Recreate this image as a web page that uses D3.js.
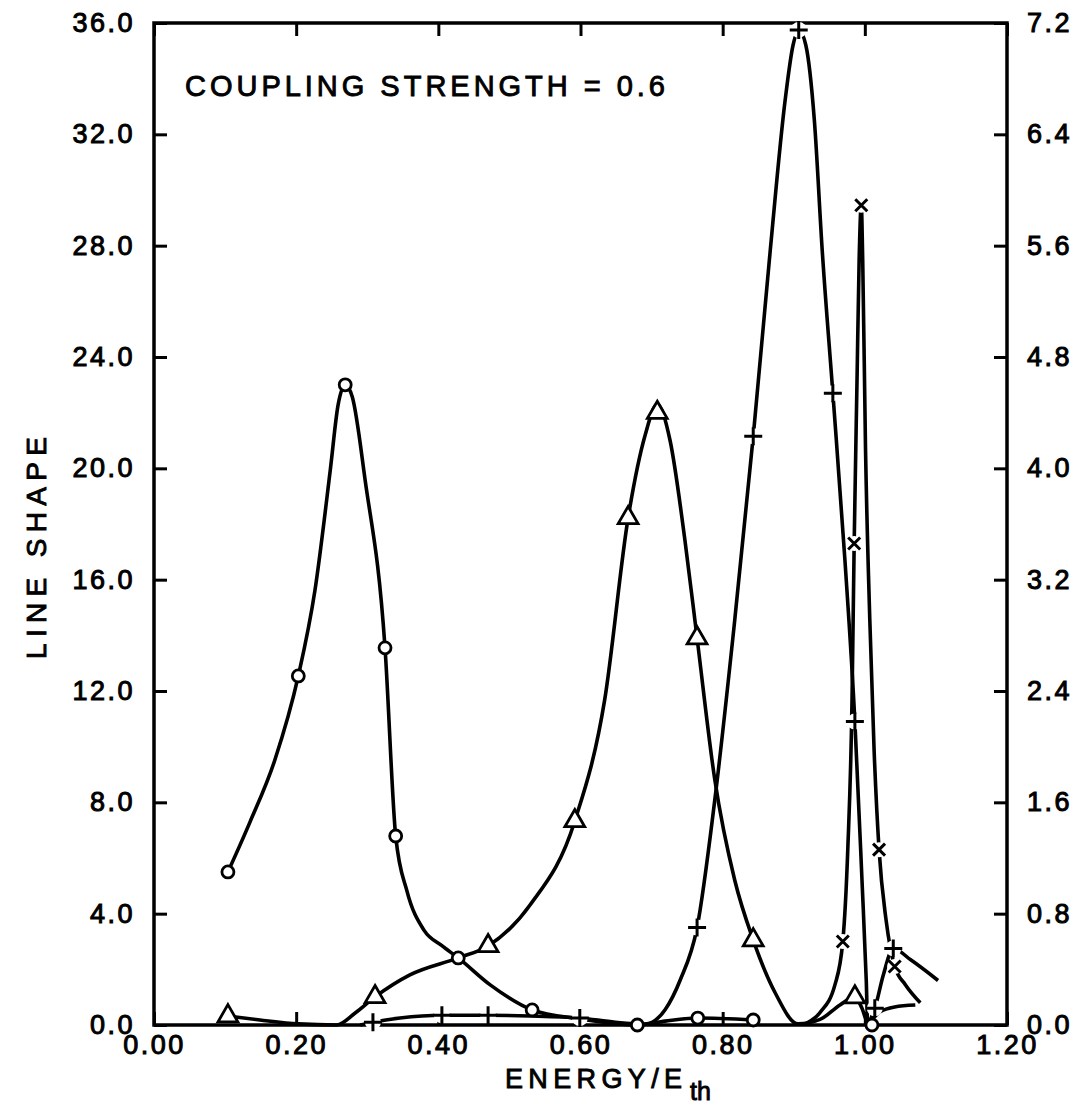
<!DOCTYPE html>
<html>
<head>
<meta charset="utf-8">
<script src="https://cdn.jsdelivr.net/npm/d3@7"></script>
<style>
  html, body { margin: 0; padding: 0; background: #fff; }
  svg { display: block; }
  text { font-family: "Liberation Sans", Arial, sans-serif; fill: #000; }
</style>
</head>
<body>
<svg id="chart" width="1079" height="1108"></svg>
<script>
// ---------------- DATA ----------------
const title = "COUPLING STRENGTH = 0.6";
const xLabel = "ENERGY/E";
const xLabelSub = "th";
const yLabel = "LINE SHAPE";

const xTicks = [0.00, 0.20, 0.40, 0.60, 0.80, 1.00, 1.20];
const leftTicks = [0, 4, 8, 12, 16, 20, 24, 28, 32, 36];
const rightTicks = [0, 0.8, 1.6, 2.4, 3.2, 4.0, 4.8, 5.6, 6.4, 7.2];

// Circle series (left axis) — curve trace and marker points
const circleCurve = [[0.104,5.50],[0.135,7.29],[0.170,9.52],[0.203,12.54],[0.2265,15.63],[0.248,19.94],[0.259,22.28],[0.269,23.0],[0.279,22.56],[0.297,19.58],[0.325,13.55],[0.340,6.79],[0.356,4.8],[0.380,3.4],[0.405,2.85],[0.428,2.41],[0.473,1.44],[0.532,0.54],[0.599,0.22],[0.680,0.0],[0.719,0.14],[0.765,0.25],[0.843,0.18]];
const circleMarks = [[0.104,5.50],[0.203,12.54],[0.269,23.0],[0.325,13.55],[0.340,6.79],[0.428,2.41],[0.532,0.54],[0.680,0.0],[0.765,0.25],[0.843,0.18],[1.010,0.0]];

// Triangle series (left axis)
const triCurve = [[0.104,0.32],[0.149,0.18],[0.203,0.04],[0.257,0.0],[0.283,0.43],[0.311,1.01],[0.360,1.80],[0.428,2.41],[0.470,2.84],[0.529,4.31],[0.592,7.33],[0.634,11.68],[0.667,18.22],[0.691,21.2],[0.708,22.3],[0.726,21.0],[0.747,17.4],[0.764,13.9],[0.789,8.8],[0.817,5.2],[0.843,3.05],[0.874,1.15],[0.906,0.04],[0.937,0.2],[0.965,0.72],[0.986,1.0],[0.996,0.6],[1.004,0.1],[1.021,0.47],[1.042,0.65],[1.071,0.72]];
const triMarks = [[0.104,0.32],[0.311,1.01],[0.470,2.84],[0.592,7.33],[0.667,18.22],[0.708,22.0],[0.764,13.9],[0.843,3.05],[0.986,1.0]];

// Plus series (right axis)
const plusCurve = [[0.290,0.0],[0.308,0.02],[0.346,0.05],[0.405,0.07],[0.470,0.07],[0.529,0.065],[0.599,0.05],[0.649,0.02],[0.691,0.007],[0.719,0.11],[0.740,0.32],[0.764,0.70],[0.789,1.62],[0.817,2.91],[0.843,4.23],[0.867,5.57],[0.888,6.65],[0.899,7.04],[0.907,7.15],[0.917,7.04],[0.929,6.50],[0.940,5.57],[0.955,4.54],[0.972,3.34],[0.986,2.18],[0.996,1.04],[1.002,0.32],[1.004,0.02],[1.014,0.12],[1.026,0.36],[1.040,0.55],[1.064,0.47],[1.103,0.32]];
const plusMarks = [[0.308,0.02],[0.405,0.07],[0.470,0.07],[0.599,0.05],[0.764,0.70],[0.843,4.23],[0.907,7.15],[0.955,4.54],[0.986,2.18],[1.014,0.12],[1.040,0.55]];

// Cross (x) series (right axis)
const crossCurve = [[0.916,0.007],[0.937,0.09],[0.958,0.29],[0.969,0.60],[0.976,1.26],[0.982,2.34],[0.985,3.46],[0.989,4.63],[0.992,5.50],[0.995,5.89],[0.997,5.50],[1.001,4.13],[1.007,2.91],[1.013,1.98],[1.020,1.26],[1.030,0.75],[1.042,0.42],[1.057,0.29],[1.078,0.16]];
const crossMarks = [[0.969,0.60],[0.985,3.46],[0.995,5.89],[1.020,1.26],[1.042,0.42]];

// ---------------- LAYOUT ----------------
const svg = d3.select("#chart");
const W = 1079, H = 1108;
const m = { left: 154, right: 72, top: 23, bottom: 83 };
const pw = W - m.left - m.right, ph = H - m.top - m.bottom;

const x = d3.scaleLinear().domain([0, 1.2]).range([m.left, m.left + pw]);
const yL = d3.scaleLinear().domain([0, 36]).range([m.top + ph, m.top]);
const yR = d3.scaleLinear().domain([0, 7.2]).range([m.top + ph, m.top]);

const fontSize = 27;

function styleAxis(g) {
  g.select(".domain").remove();
  g.selectAll(".tick line").attr("stroke", "#000").attr("stroke-width", 3);
  g.selectAll(".tick text")
    .style("font-size", fontSize + "px")
    .style("letter-spacing", "2.5px")
    .attr("stroke", "#000").attr("stroke-width", 1)
    .attr("fill", "#000");
}

svg.append("g").attr("transform", `translate(${m.left},0)`)
  .call(d3.axisLeft(yL).tickValues(leftTicks).tickFormat(d3.format(".1f")).tickSize(-13).tickPadding(19))
  .call(styleAxis);

svg.append("g").attr("transform", `translate(${m.left + pw},0)`)
  .call(d3.axisRight(yR).tickValues(rightTicks).tickFormat(d3.format(".1f")).tickSize(-13).tickPadding(20))
  .call(styleAxis);

svg.append("g").attr("transform", `translate(0,${m.top + ph})`)
  .call(d3.axisBottom(x).tickValues(xTicks).tickFormat(d3.format(".2f")).tickSize(-13).tickPadding(10))
  .call(styleAxis);

svg.append("g").attr("transform", `translate(0,${m.top})`)
  .call(d3.axisTop(x).tickValues(xTicks).tickFormat("").tickSize(-13))
  .call(styleAxis);

// Frame
svg.append("rect").attr("x", m.left).attr("y", m.top).attr("width", pw).attr("height", ph)
  .attr("fill", "none").attr("stroke", "#000").attr("stroke-width", 3.5);

// Lines
const plot = svg.append("g");
function drawLine(data, ys) {
  const line = d3.line().x(d => x(d[0])).y(d => ys(d[1])).curve(d3.curveMonotoneX);
  plot.append("path").datum(data).attr("d", line)
    .attr("fill", "none").attr("stroke", "#000").attr("stroke-width", 3.6).attr("stroke-linejoin", "round");
}
drawLine(circleCurve, yL);
drawLine(triCurve, yL);
drawLine(plusCurve, yR);
drawLine(crossCurve, yR);

// Markers
const mk = svg.append("g");
mk.selectAll("circle.c").data(circleMarks).join("circle").attr("class", "c")
  .attr("cx", d => x(d[0])).attr("cy", d => yL(d[1])).attr("r", 6)
  .attr("fill", "#fff").attr("stroke", "#000").attr("stroke-width", 2.8);

mk.selectAll("path.t").data(triMarks).join("path").attr("class", "t")
  .attr("transform", d => `translate(${x(d[0])},${yL(d[1])})`)
  .attr("d", d3.symbol(d3.symbolTriangle, 170)())
  .attr("fill", "#fff").attr("stroke", "#000").attr("stroke-width", 2.8);

const pg = mk.selectAll("g.p").data(plusMarks).join("g").attr("class", "p")
  .attr("transform", d => `translate(${x(d[0])},${yR(d[1])})`);
pg.append("circle").attr("r", 8).attr("fill", "#fff");
pg.append("path").attr("d", "M-9,0H9M0,-9V9").attr("stroke", "#000").attr("stroke-width", 3);

const xg = mk.selectAll("g.x").data(crossMarks).join("g").attr("class", "x")
  .attr("transform", d => `translate(${x(d[0])},${yR(d[1])})`);
xg.append("circle").attr("r", 7.5).attr("fill", "#fff");
xg.append("path").attr("d", "M-6,-6L6,6M-6,6L6,-6").attr("stroke", "#000").attr("stroke-width", 3);

// Texts
svg.append("text").attr("x", 185).attr("y", 96).text(title)
  .style("font-size", "29px").attr("textLength", 480).attr("lengthAdjust", "spacing")
  .attr("stroke", "#000").attr("stroke-width", 0.9);

const xl = svg.append("text").attr("x", 505).attr("y", 1088)
  .style("font-size", "27px").attr("stroke", "#000").attr("stroke-width", 0.9);
xl.append("tspan").text(xLabel).attr("textLength", 177).attr("lengthAdjust", "spacing");
xl.append("tspan").text(xLabelSub).attr("x", 690).attr("dy", 12).style("font-size", "25px");

svg.append("text").attr("transform", "translate(46,548) rotate(-90)")
  .attr("text-anchor", "middle").text(yLabel)
  .style("font-size", "28px").attr("textLength", 222).attr("lengthAdjust", "spacing")
  .attr("stroke", "#000").attr("stroke-width", 0.9);
</script>
</body>
</html>
